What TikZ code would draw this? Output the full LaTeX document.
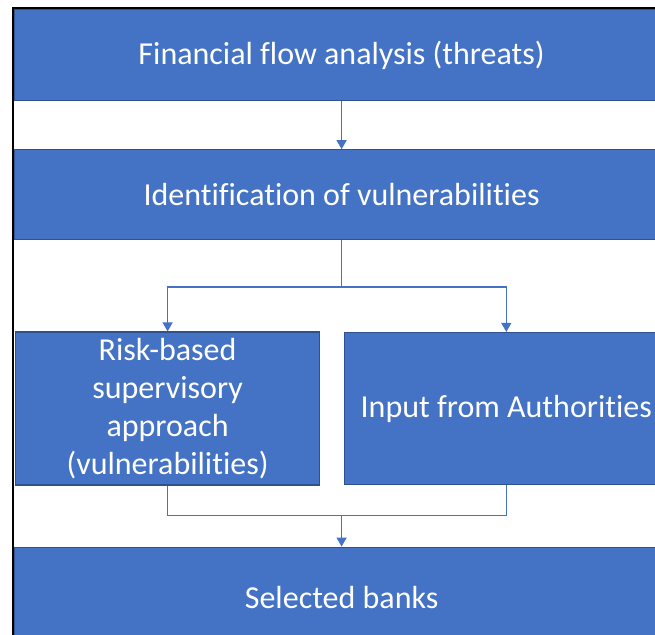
\documentclass[tikz,border=0pt]{standalone}
\usepackage{fontspec}
\setmainfont{Carlito}[RawFeature={-liga;-clig;-dlig;-rlig;-ccmp;-calt}]
\usepackage{tikz}
\usetikzlibrary{arrows.meta,positioning,calc}
\definecolor{boxblue}{HTML}{4472C4}
\definecolor{boxedge}{HTML}{2F528F}
\tikzset{
  stagebox/.style={
    draw=boxedge,
    fill=boxblue,
    line width=1.2pt,
    text=white,
    align=center,
    font=\fontsize{32}{38}\selectfont,
    inner sep=0pt
  },
  flowarrow/.style={-{Triangle[length=9pt,width=10pt]}, line width=1.2pt, draw=boxblue},
  flowline/.style={line width=1.2pt, draw=boxblue}
}
\begin{document}
\begin{tikzpicture}[x=1pt,y=-1pt]
  \useasboundingbox (0,0) rectangle (655,634);
  \draw[line width=1.6pt] (13,640) -- (13,8) -- (660,8);
  \node[stagebox,anchor=north west,minimum width=654pt,minimum height=91pt] (flow) at (14,9) {Financial flow analysis (threats)};
  \node[stagebox,below=48pt of flow,minimum width=654pt,minimum height=90pt] (vuln) {Identification of vulnerabilities};
  \node[stagebox,below right=91pt and 1pt of vuln.south west,minimum width=304pt,minimum height=153pt] (risk) {Risk-based\\supervisory\\approach\\(vulnerabilities)};
  \node[stagebox,right=24pt of risk,minimum width=323pt,minimum height=152pt] (input) {Input from Authorities};
  \node[stagebox,below right=61pt and -1pt of risk.south west,minimum width=654pt,minimum height=100pt] (banks) {Selected banks};
  \draw[flowarrow] (flow) -- (vuln);
  \coordinate (split) at ($(vuln.south)+(0,46.5)$);
  \draw[flowarrow] (vuln.south) -- (split) -| (risk.north);
  \draw[flowarrow] (split) -| (input.north);
  \coordinate (merge) at ($(risk.south)+(0,30)$);
  \draw[flowline] (risk.south) -- (merge) -| (input.south);
  \draw[flowarrow] (merge -| banks.north) -- (banks.north);
\end{tikzpicture}
\end{document}
